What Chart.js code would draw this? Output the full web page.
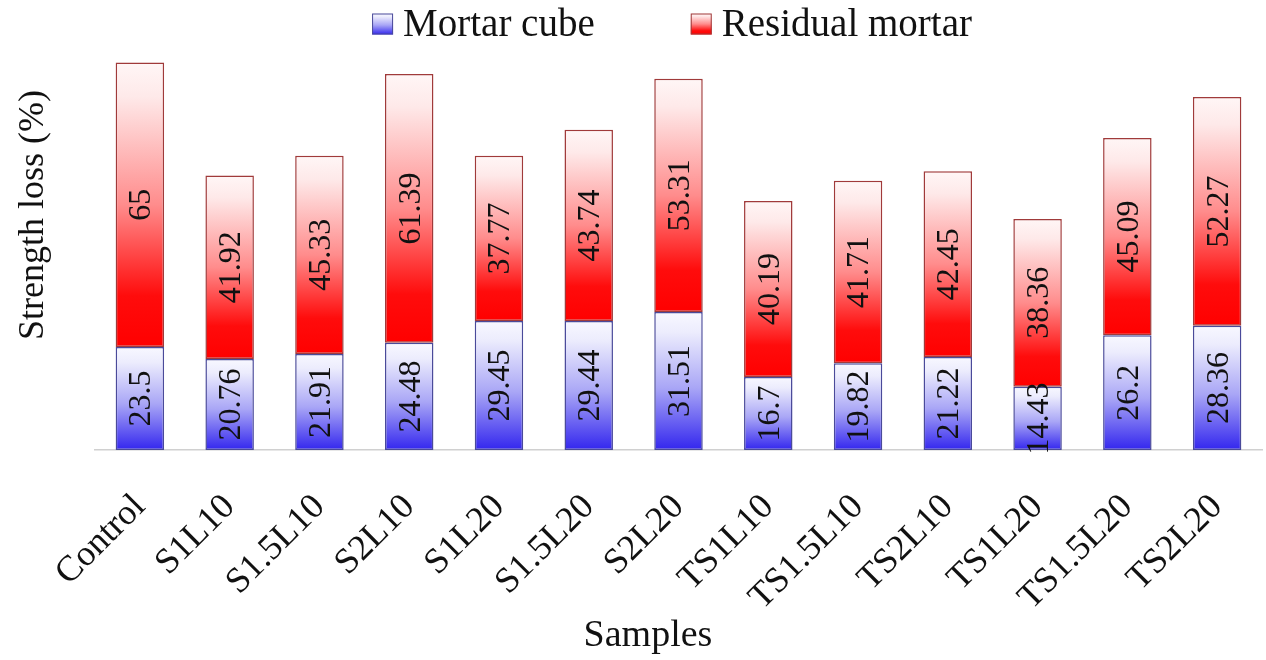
<!DOCTYPE html>
<html>
<head>
<meta charset="utf-8">
<script src="https://cdn.jsdelivr.net/npm/chart.js@4.4.0/dist/chart.umd.min.js"></script>
<style>
  html, body { margin: 0; padding: 0; background: #fff; }
  #wrap { width: 1266px; height: 660px; }
</style>
</head>
<body>
<div id="wrap"><canvas id="lossChart"></canvas></div>
<script>
const samples = ["Control", "S1L10", "S1.5L10", "S2L10", "S1L20", "S1.5L20", "S2L20",
  "TS1L10", "TS1.5L10", "TS2L10", "TS1L20", "TS1.5L20", "TS2L20"];
const mortarCube = [23.5, 20.76, 21.91, 24.48, 29.45, 29.44, 31.51, 16.7, 19.82, 21.22, 14.43, 26.2, 28.36];
const residualMortar = [65, 41.92, 45.33, 61.39, 37.77, 43.74, 53.31, 40.19, 41.71, 42.45, 38.36, 45.09, 52.27];
const seriesNames = ["Mortar cube", "Residual mortar"];
const yMax = 90;

const FONT = "'Liberation Serif', 'Times New Roman', serif";

const blueStops = [[0, "#f8f8ff"], [0.15, "#ececfd"], [0.55, "#a9a6f6"], [1, "#3326ee"]];
const redStops = [[0, "#fff6f6"], [0.12, "#fee9e9"], [0.5, "#ff8c8c"], [0.82, "#ff0c0c"], [1, "#ff0000"]];

function segmentGradient(stops, fallback) {
  return (ctx) => {
    const chart = ctx.chart;
    if (!chart.chartArea || ctx.type !== "data") return fallback;
    const y = chart.scales.y;
    const i = ctx.dataIndex;
    let lo = 0;
    for (let d = 0; d < ctx.datasetIndex; d++) lo += chart.data.datasets[d].data[i];
    const hi = lo + chart.data.datasets[ctx.datasetIndex].data[i];
    const g = chart.ctx.createLinearGradient(0, y.getPixelForValue(hi), 0, y.getPixelForValue(lo));
    stops.forEach(([o, c]) => g.addColorStop(o, c));
    return g;
  };
}

// value labels, rotated, centred in each segment
const segmentLabels = {
  id: "segmentLabels",
  afterDatasetsDraw(chart) {
    const c = chart.ctx;
    c.save();
    c.font = "32px " + FONT;
    c.fillStyle = "#111";
    c.textAlign = "center";
    c.textBaseline = "middle";
    chart.data.datasets.forEach((ds, di) => {
      chart.getDatasetMeta(di).data.forEach((bar, i) => {
        const cy = (bar.y + bar.base) / 2;
        c.save();
        c.translate(bar.x + 2, cy);
        c.rotate(-Math.PI / 2);
        c.fillText(String(ds.data[i]), 0, 0);
        c.restore();
      });
    });
    c.restore();
  }
};

// legend + axis titles
const decorations = {
  id: "decorations",
  afterDraw(chart) {
    const c = chart.ctx;
    c.save();
    c.font = "39px " + FONT;
    c.fillStyle = "#111";
    c.textBaseline = "middle";
    const box = 21, gapText = 10, gapItem = 96;
    const w0 = c.measureText(seriesNames[0]).width;
    const w1 = c.measureText(seriesNames[1]).width;
    const total = box + gapText + w0 + gapItem + box + gapText + w1;
    let x = 672 - total / 2;
    const ly = 24;
    [[blueStops, "#4a4a9a"], [redStops, "#a03a3a"]].forEach(([stops, border], k) => {
      const g = c.createLinearGradient(0, ly - box / 2, 0, ly + box / 2);
      stops.forEach(([o, col]) => g.addColorStop(o, col));
      c.fillStyle = g;
      c.fillRect(x, ly - box / 2, box, box);
      c.strokeStyle = border;
      c.lineWidth = 1;
      c.strokeRect(x + 0.5, ly - box / 2 + 0.5, box - 1, box - 1);
      x += box + gapText;
      c.fillStyle = "#111";
      c.textAlign = "left";
      c.fillText(seriesNames[k], x, ly + 2);
      x += (k === 0 ? w0 : w1) + gapItem;
    });

    c.font = "38px " + FONT;
    c.textAlign = "center";
    c.fillText("Samples", 648, 636);

    c.font = "36px " + FONT;
    c.save();
    c.translate(34, 215);
    c.rotate(-Math.PI / 2);
    c.fillText("Strength loss (%)", 0, 0);
    c.restore();
    c.restore();
  }
};

new Chart(document.getElementById("lossChart"), {
  type: "bar",
  data: {
    labels: samples,
    datasets: [
      {
        label: seriesNames[0],
        data: mortarCube,
        backgroundColor: segmentGradient(blueStops, "#8080f0"),
        borderColor: "#4a4a9a",
        borderWidth: 1.5,
        borderSkipped: false,
        barPercentage: 0.54,
        categoryPercentage: 1
      },
      {
        label: seriesNames[1],
        data: residualMortar,
        backgroundColor: segmentGradient(redStops, "#ff8080"),
        borderColor: "#a03a3a",
        borderWidth: 1.5,
        borderSkipped: false,
        barPercentage: 0.54,
        categoryPercentage: 1
      }
    ]
  },
  options: {
    responsive: true,
    maintainAspectRatio: false,
    animation: false,
    layout: { padding: { left: 95, right: 4, top: 56, bottom: 0 } },
    plugins: {
      legend: { display: false },
      tooltip: { enabled: false }
    },
    scales: {
      x: {
        stacked: true,
        grid: { display: false },
        border: { color: "#d0d0d0", width: 1.5 },
        ticks: {
          font: { family: FONT, size: 36 },
          color: "#111",
          minRotation: 45,
          maxRotation: 45,
          padding: 28
        },
        afterFit(scale) {
          scale.height = 210;
          scale.paddingLeft = 0;
          scale.paddingRight = 0;
        }
      },
      y: {
        stacked: true,
        display: false,
        min: 0,
        max: yMax
      }
    }
  },
  plugins: [segmentLabels, decorations]
});
</script>
</body>
</html>
